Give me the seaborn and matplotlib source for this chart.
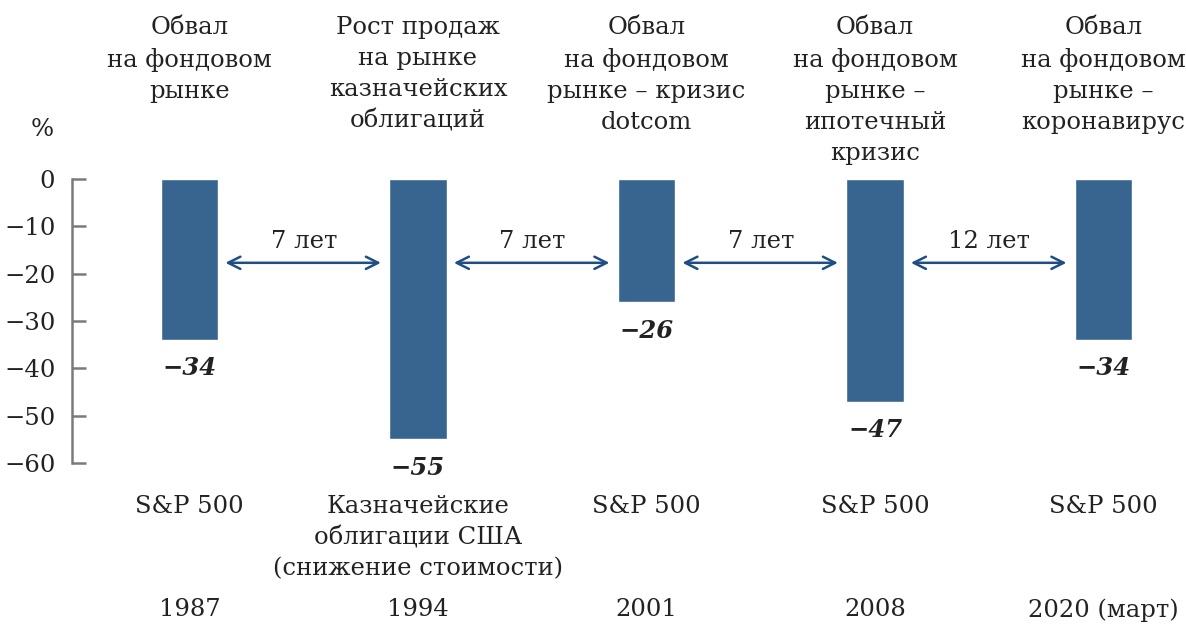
import matplotlib
matplotlib.use("Agg")
import matplotlib.pyplot as plt
import seaborn as sns
import pandas as pd

# Data
years = ["1987", "1994", "2001", "2008", "2020 (март)"]
drops = [-34, -55, -26, -47, -34]
events = [
    "Обвал\nна фондовом\nрынке",
    "Рост продаж\nна рынке\nказначейских\nоблигаций",
    "Обвал\nна фондовом\nрынке – кризис\ndotcom",
    "Обвал\nна фондовом\nрынке –\nипотечный\nкризис",
    "Обвал\nна фондовом\nрынке –\nкоронавирус",
]
assets = [
    "S&P 500",
    "Казначейские\nоблигации США\n(снижение стоимости)",
    "S&P 500",
    "S&P 500",
    "S&P 500",
]
gaps = ["7 лет", "7 лет", "7 лет", "12 лет"]

df = pd.DataFrame({"year": years, "drop": drops})

sns.set_style("white")
plt.rcParams["font.family"] = ["DejaVu Serif"]
plt.rcParams["axes.unicode_minus"] = True

bar_color = "#37658f"
arrow_color = "#1f4e85"
text_color = "#222222"
fs = 17.5

fig = plt.figure(figsize=(11.86, 6.26), dpi=100)
ax = fig.add_axes([72 / 1186, 0, 1 - 72 / 1186, 1])

sns.barplot(data=df, x="year", y="drop", color=bar_color, width=0.25,
            saturation=1, ax=ax)

ax.set_xlim(-0.514, 4.361)
ax.set_ylim(-94.4, 37.8)
ax.set_xticks([])
ax.set_xlabel("")
ax.set_ylabel("")
ax.set_yticks(range(-60, 1, 10))
ax.set_yticklabels([str(v).replace("-", "\u2212") for v in range(-60, 1, 10)])
for s in ["top", "right", "bottom"]:
    ax.spines[s].set_visible(False)
ax.spines["left"].set_bounds(-60, 0)
ax.spines["left"].set_color("#7a7a7a")
ax.spines["left"].set_linewidth(1.8)
ax.tick_params(axis="y", left=True, direction="in", length=10, width=1.8,
               color="#7a7a7a", labelsize=fs, labelcolor=text_color, pad=12)

ax.text(-0.645, 10.4, "%", ha="center", va="center", fontsize=fs, color=text_color)

for i, v in enumerate(drops):
    ax.text(i, v - 6, f"\u2212{abs(v)}", ha="center", va="center", fontsize=fs,
            fontweight="bold", fontstyle="italic", color=text_color)
    ax.text(i, 34.4, events[i], ha="center", va="top", fontsize=fs,
            color=text_color, linespacing=1.45)
    ax.text(i, -66.8, assets[i], ha="center", va="top", fontsize=fs,
            color=text_color, linespacing=1.45)
    ax.text(i, -91, years[i], ha="center", va="center", fontsize=fs,
            color=text_color)

for i, g in enumerate(gaps):
    ax.annotate("", xy=(i + 1 - 0.15, -17.7), xytext=(i + 0.145, -17.7),
                arrowprops=dict(arrowstyle="<->", color=arrow_color, lw=1.8,
                                mutation_scale=22))
    ax.text(i + 0.5, -13.3, g, ha="center", va="center", fontsize=fs,
            color=text_color)

fig.savefig("out.png", dpi=100)
